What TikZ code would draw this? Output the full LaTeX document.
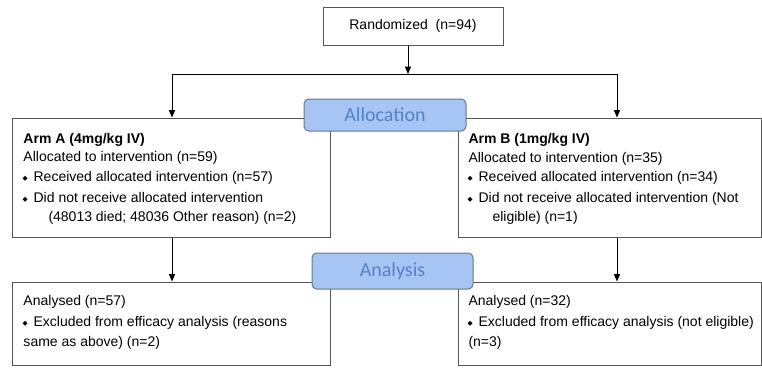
\documentclass[tikz,border=0pt]{standalone}
\usepackage{fontspec}
\setmainfont{Liberation Sans}
\newfontfamily\stagefont{Carlito}
\newfontfamily\symfont{DejaVu Sans}
\usetikzlibrary{arrows.meta}

\definecolor{stagefill}{RGB}{166,196,244}
\definecolor{stagedraw}{RGB}{105,118,140}
\definecolor{stagetext}{RGB}{84,130,200}
\definecolor{boxline}{RGB}{85,85,85}

\newcommand{\dia}{{\symfont\fontsize{5}{5}\selectfont\raisebox{0.35ex}{◆}}\hspace{4.5pt}}

\tikzset{every picture/.style={line width=0.75pt}}

\begin{document}
\begin{tikzpicture}[x=0.75pt,y=0.75pt,yscale=-1,xscale=1,
  box/.style={draw=boxline, fill=white, inner sep=0pt},
  stage/.style={draw=stagedraw, fill=stagefill, rounded corners=3.5pt, inner sep=0pt,
    font=\stagefont\fontsize{15}{15}\selectfont, text=stagetext},
  txt/.style={anchor=west, inner sep=0pt, text height=7.5pt, text depth=2pt,
    font=\fontsize{10.5}{12}\selectfont},
  arr/.style={-{Triangle[width=4.5pt,length=5.5pt]}}]
\useasboundingbox (0,0) rectangle (762,368);

%Boxes
\node [box, minimum width=135pt, minimum height=28.5pt] (rand) at (413,26) {};
\node [box, minimum width=238.5pt, minimum height=89.25pt] (armA) at (171,177.5) {};
\node [box, minimum width=227.25pt, minimum height=89.25pt] (armB) at (609.5,177.5) {};
\node [box, minimum width=238.5pt, minimum height=62.25pt] (anaA) at (171,323.5) {};
\node [box, minimum width=227.25pt, minimum height=62.25pt] (anaB) at (609.5,323.5) {};

%Connectors
\coordinate (split) at (408,74);
\coordinate (splitL) at (172,74);
\coordinate (splitR) at (617,74);
\draw [arr] (rand.south -| split) -- (split);
\draw (splitL) -- (splitR);
\draw [arr] (splitL) -- (splitL |- armA.north);
\draw [arr] (splitR) -- (splitR |- armB.north);
\draw [arr] (splitL |- armA.south) -- (splitL |- anaA.north);
\draw [arr] (splitR |- armB.south) -- (splitR |- anaB.north);

%Stage labels
\node [stage, minimum width=121.5pt, minimum height=24pt] (alloc) at (385,115) {Allocation};
\node [stage, minimum width=120.75pt, minimum height=27pt] (anal) at (392.5,271) {Analysis};

% Text Node
\node [txt, anchor=center] (randT) at (rand.center) {Randomized~ (n=94)};
% Text Node
\node [txt] (a1) at (23,140) {\textbf{Arm A (4mg/kg IV)}};
\node [txt] (a2) at (23,158) {Allocated to intervention (n=59)};
\node [txt] (a3) at (22,178) {\dia Received allocated intervention (n=57)};
\node [txt] (a4) at (22,199) {\dia Did not receive allocated intervention};
\node [txt] (a5) at (48,218) {(48013 died; 48036 Other reason) (n=2)};
% Text Node
\node [txt] (b1) at (468,140) {\textbf{Arm B (1mg/kg IV)}};
\node [txt] (b2) at (468,159) {Allocated to intervention (n=35)};
\node [txt] (b3) at (467,178) {\dia Received allocated intervention (n=34)};
\node [txt] (b4) at (467,199) {\dia Did not receive allocated intervention (Not};
\node [txt] (b5) at (492,218) {eligible) (n=1)};
% Text Node
\node [txt] (c1) at (23,302) {Analysed (n=57)};
\node [txt] (c2) at (22,323) {\dia Excluded from efficacy analysis (reasons};
\node [txt] (c3) at (23,343) {same as above) (n=2)};
% Text Node
\node [txt] (d1) at (468,302) {Analysed (n=32)};
\node [txt] (d2) at (467,323) {\dia Excluded from efficacy analysis (not eligible)};
\node [txt] (d3) at (468,343) {(n=3)};

\end{tikzpicture}
\end{document}
